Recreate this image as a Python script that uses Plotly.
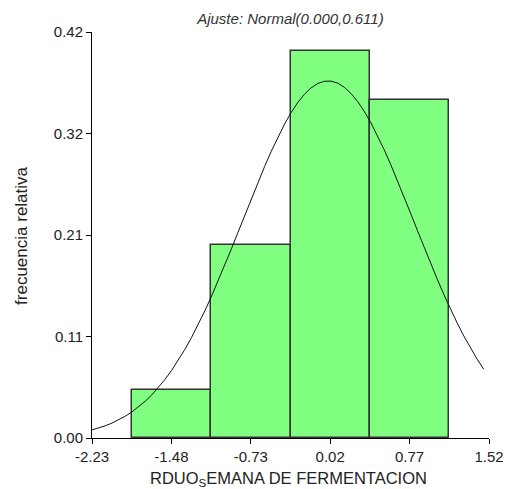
import numpy as np
import plotly.graph_objects as go

# Data
bin_centers = [-1.48, -0.73, 0.02, 0.77]
rel_freq = [0.05, 0.20, 0.40, 0.35]
bin_width = 0.75

x_tickvals = [-2.23, -1.48, -0.73, 0.02, 0.77, 1.52]
x_ticktext = ["-2.23", "-1.48", "-0.73", "0.02", "0.77", "1.52"]
y_tickvals = [0.0, 0.105, 0.21, 0.315, 0.42]
y_ticktext = ["0.00", "0.11", "0.21", "0.32", "0.42"]

# Fitted normal curve (as drawn): mean, sd, x span
fit_mean = 0.0
fit_sd = 0.81
curve_x_start = -2.23
curve_x_end = 1.47

cx = np.linspace(curve_x_start, curve_x_end, 60)
cy = bin_width * np.exp(-0.5 * ((cx - fit_mean) / fit_sd) ** 2) / (fit_sd * np.sqrt(2 * np.pi))

fig = go.Figure()
fig.add_trace(go.Bar(
    x=bin_centers, y=rel_freq, width=bin_width,
    marker=dict(color="#80FF80", line=dict(color="#333333", width=1.5)),
    showlegend=False, hoverinfo="x+y",
))
fig.add_trace(go.Scatter(
    x=cx, y=cy, mode="lines",
    line=dict(color="#111111", width=1),
    showlegend=False,
))

font_family = "Liberation Sans, Arial, sans-serif"
fig.update_layout(
    width=510, height=489,
    margin=dict(l=92, r=21, t=32, b=51, autoexpand=False),
    plot_bgcolor="white", paper_bgcolor="white",
    font=dict(family=font_family, size=15, color="#222222"),
    title=dict(
        text="<i>Ajuste: Normal(0.000,0.611)</i>",
        x=0.5695, xanchor="center", y=0.962, yanchor="middle",
        font=dict(size=15, color="#333333"),
    ),
    xaxis=dict(
        range=[-2.23, 1.52], tickvals=x_tickvals, ticktext=x_ticktext,
        showgrid=False, zeroline=False, showline=True, linecolor="black", linewidth=1,
        ticks="outside", ticklen=5, tickcolor="black",
        tickfont=dict(size=15),
    ),
    yaxis=dict(
        range=[0, 0.42], tickvals=y_tickvals, ticktext=y_ticktext,
        showgrid=False, zeroline=False, showline=True, linecolor="black", linewidth=1,
        ticks="outside", ticklen=5, tickcolor="black",
        tickfont=dict(size=15),
    ),
    annotations=[
        dict(text="RDUO<sub>S</sub>EMANA DE FERMENTACION", xref="paper", yref="paper",
             x=0.495, y=-0.102, xanchor="center", yanchor="middle", showarrow=False,
             font=dict(size=16.5, color="#222222")),
        dict(text="frecuencia relativa", xref="paper", yref="paper",
             x=-0.179, y=0.5, xanchor="center", yanchor="middle", textangle=-90,
             showarrow=False, font=dict(size=17, color="#222222")),
    ],
    bargap=0,
)

fig.write_html("out.html", config={"displayModeBar": False},
               post_script="document.body.style.margin='0';")
